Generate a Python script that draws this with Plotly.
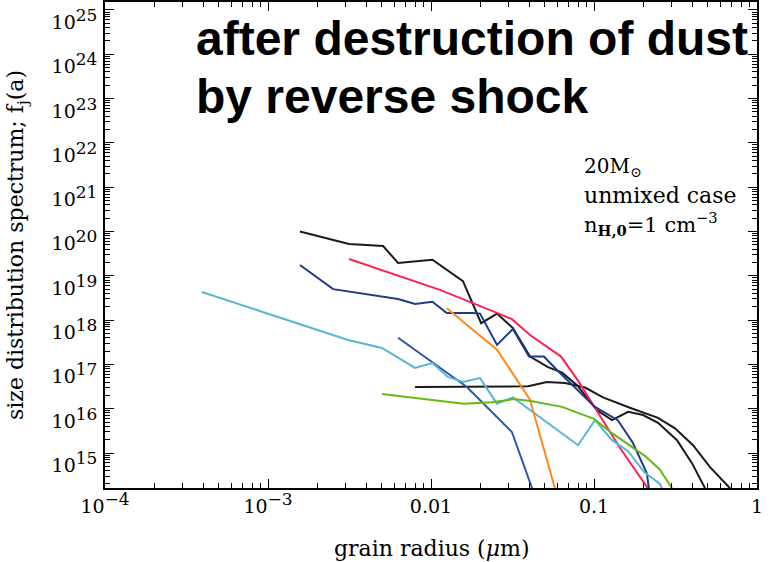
import plotly.graph_objects as go

# grain radius (um) and size distribution f_j(a)
black1_a = [0.00157, 0.00314, 0.00508, 0.00628, 0.0102, 0.0157, 0.0203, 0.0254, 0.0318, 0.0405,
            0.0522, 0.0637, 0.0787, 0.104, 0.129, 0.162, 0.200, 0.247, 0.323, 0.399, 0.48]
black1_f = [1.0e20, 5.2e19, 4.7e19, 1.95e19, 2.3e19, 7.6e18, 8.5e17, 1.4e18, 6.6e17, 1.5e17,
            8.7e16, 6.5e16, 3.4e16, 9.3e15, 5.5e15, 8.5e15, 7.2e15, 4.8e15, 1.95e15, 5.9e14, 1.6e14]

black2_a = [0.00798, 0.0394, 0.0515, 0.0664, 0.0881, 0.1135, 0.166, 0.247, 0.314, 0.405, 0.515, 0.683]
black2_f = [3.1e16, 3.2e16, 4.0e16, 3.8e16, 3.0e16, 1.8e16, 1.05e16, 6.2e15, 3.6e15, 1.5e15, 4.8e14, 1.6e14]

red_a = [0.00314, 0.01135, 0.0254, 0.0314, 0.0405, 0.0628, 0.0798, 0.0973, 0.1445, 0.214]
red_f = [2.4e19, 4.8e18, 1.45e18, 1.05e18, 4.6e17, 1.5e17, 4.3e16, 1.35e16, 1.3e15, 1.6e14]

navy_a = [0.00157, 0.00251, 0.00628, 0.00798, 0.0102, 0.0125, 0.0179, 0.020, 0.0254, 0.0318,
          0.0399, 0.0493, 0.0601, 0.1014, 0.140, 0.173, 0.211, 0.217]
navy_f = [1.75e19, 5.0e18, 3.0e18, 2.3e18, 2.6e18, 1.45e18, 1.45e18, 1.4e18, 2.75e17, 6.3e17,
          1.5e17, 1.5e17, 7.1e16, 1.1e16, 5.5e15, 1.7e15, 3.5e14, 1.6e14]

blue_a = [0.00628, 0.0166, 0.0314, 0.0417]
blue_f = [4.0e17, 3.1e16, 2.95e15, 1.6e14]

sky_a = [0.000393, 0.0031, 0.0050, 0.00798, 0.0102, 0.0127, 0.0157, 0.020, 0.0254, 0.0318,
         0.0798, 0.1014, 0.129, 0.162, 0.203, 0.254, 0.261]
sky_f = [4.3e18, 3.55e17, 2.35e17, 8.3e16, 1.07e17, 5.2e16, 4.0e16, 4.9e16, 1.3e16, 1.8e16,
         1.5e15, 5.5e15, 1.95e15, 1.1e15, 3.7e14, 2.0e14, 1.6e14]

orange_a = [0.0125, 0.0254, 0.0405, 0.0577]
orange_f = [1.85e18, 2.15e17, 1.6e16, 1.55e14]

green_a = [0.005, 0.0159, 0.0237, 0.0323, 0.041, 0.0637, 0.100, 0.129, 0.206, 0.254, 0.301]
green_f = [2.15e16, 1.3e16, 1.4e16, 1.65e16, 1.5e16, 1.1e16, 5.9e15, 2.8e15, 8.5e14, 4.2e14, 1.6e14]

x_tickvals = [1e-4, 1e-3, 1e-2, 1e-1, 1]
x_ticktext = ['10<sup>−4</sup>', '10<sup>−3</sup>', '0.01', '0.1', '1']
y_exps = list(range(15, 26))

series = [
    (black1_a, black1_f, '#1a1a1a'),
    (black2_a, black2_f, '#1a1a1a'),
    (red_a, red_f, '#ff2255'),
    (navy_a, navy_f, '#1e3a8a'),
    (blue_a, blue_f, '#2a55b0'),
    (sky_a, sky_f, '#5ab4d6'),
    (orange_a, orange_f, '#ff8a1c'),
    (green_a, green_f, '#66b814'),
]

fig = go.Figure()
for a, f, c in series:
    fig.add_trace(go.Scatter(x=a, y=f, mode='lines', line=dict(color=c, width=2), showlegend=False))

W, H = 769, 562
L, R, T, B = 105, 757, 2, 488

def px(x):
    return (x - L) / (R - L)

def py(y):
    return (B - y) / (B - T)

serif = 'DejaVu Serif'
FS = 19
def sup(t):
    return '<sup><span style="font-size:%dpx">%s</span></sup>' % (FS - 2, t)

axis_common = dict(showline=True, linecolor='black', linewidth=1.5, mirror='ticks',
                   ticks='inside', ticklen=9, tickcolor='black', tickwidth=1,
                   showgrid=False, zeroline=False, automargin=False,
                   ticklabeloverflow='allow',
                   tickfont=dict(family=serif, size=FS, color='black'),
                   minor=dict(ticks='inside', ticklen=5, tickcolor='black', dtick='D1', showgrid=False))

fig.update_xaxes(type='log', range=[-4, 0], tickmode='array', tickvals=x_tickvals,
                 ticktext=['10' + sup('−4'), '10' + sup('−3'), '0.01', '0.1', '1'],
                 **axis_common)
fig.update_yaxes(type='log', range=[14.21, 25.18], tickmode='array',
                 tickvals=[10.0 ** e for e in y_exps],
                 ticktext=[' <br>10' + sup(str(e)) for e in y_exps],
                 ticklabelstandoff=2,
                 **axis_common)

ann = []
ann.append(dict(text='<b>after destruction of dust</b>', x=px(194), y=py(38), xanchor='left', yanchor='middle',
                font=dict(family='Liberation Sans', size=48, color='black')))
ann.append(dict(text='<b>by reverse shock</b>', x=px(194), y=py(96), xanchor='left', yanchor='middle',
                font=dict(family='Liberation Sans', size=48, color='black')))
ann.append(dict(text='20M<sub>⊙</sub>', x=px(582), y=py(167), xanchor='left', yanchor='middle',
                font=dict(family=serif, size=20, color='black')))
ann.append(dict(text='unmixed case', x=px(582), y=py(195), xanchor='left', yanchor='middle',
                font=dict(family=serif, size=22, color='black')))
ann.append(dict(text='n<sub><b>H,0</b></sub>=1 cm<sup>−3</sup>', x=px(582), y=py(224), xanchor='left', yanchor='middle',
                font=dict(family=serif, size=21, color='black')))
ann.append(dict(text='grain radius (<i>μ</i>m)', x=px(431), y=py(548), xanchor='center', yanchor='middle',
                font=dict(family=serif, size=22, color='black')))
ann.append(dict(text='size distribution spectrum; f<sub>j</sub>(a)', x=px(17), y=py(245), xanchor='center',
                yanchor='middle', textangle=-90, font=dict(family=serif, size=22, color='black')))
for a_ in ann:
    a_.update(xref='paper', yref='paper', showarrow=False)
fig.update_layout(annotations=ann)

fig.update_layout(width=W, height=H, margin=dict(l=L, r=W - R, t=T, b=H - B, autoexpand=False),
                  paper_bgcolor='white', plot_bgcolor='white')

fig.write_html('out.html', config={'displayModeBar': False},
               post_script="document.body.style.margin='0';document.body.style.overflow='hidden';")
